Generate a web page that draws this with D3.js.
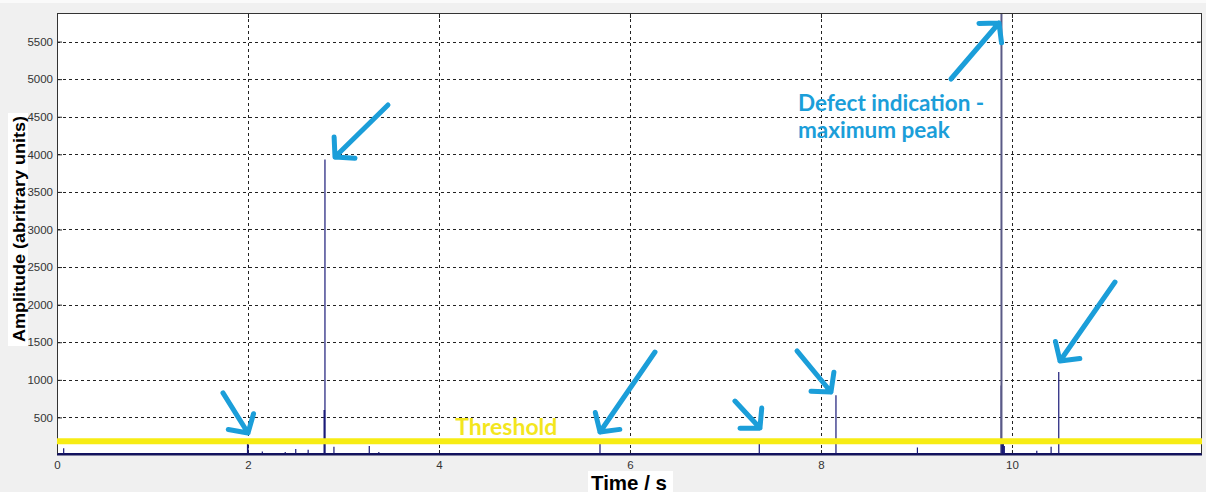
<!DOCTYPE html>
<html>
<head>
<meta charset="utf-8">
<script src="https://cdn.jsdelivr.net/npm/d3@7"></script>
<style>
  html, body { margin: 0; padding: 0; background: #f0f0f0; }
  svg { display: block; }
</style>
</head>
<body>
<svg id="chart" width="1206" height="492"></svg>
<script>
// ---- data ----
const xTicks = [0, 2, 4, 6, 8, 10];
const yTicks = [500, 1000, 1500, 2000, 2500, 3000, 3500, 4000, 4500, 5000, 5500];
const xDomain = [0, 11.99];
const yDomain = [0, 5880];

// spikes of the signal (time in s, amplitude in arbitrary units)
const spikeTime = [0.07, 1.995, 2.0, 2.15, 2.39, 2.50, 2.63, 2.797, 2.803, 2.806, 2.90, 3.27, 3.37,
                   5.686, 6.44, 7.354, 8.157, 8.90, 9.01, 9.887, 9.890, 9.895, 9.90, 9.91, 9.92,
                   10.26, 10.41, 10.49];
const spikeAmp  = [90, 190, 200, 45, 40, 80, 70, 600, 600, 3930, 110, 120, 40,
                   190, 20, 190, 795, 20, 100, 925, 6200, 150, 150, 150, 120,
                   55, 110, 1105];

const thresholdValue = 182;
const thresholdLabel = "Threshold";

// annotation arrows (tail -> head), in data units
const arrowFromT = [3.466, 1.738, 6.262, 7.099, 7.749, 9.361, 11.079];
const arrowFromA = [4656, 827, 1370, 718, 1384, 5002, 2301];
const arrowToT   = [2.911, 2.0, 5.686, 7.361, 8.105, 9.864, 10.503];
const arrowToA   = [3964, 293, 306, 359, 838, 5747, 1251];

const defectLabel = ["Defect indication -", "maximum peak"];
const xLabel = "Time / s";
const yLabel = "Amplitude (abritrary units)";

// ---- layout ----
const svg = d3.select("#chart");
const L = 57, R = 1202, T = 13, B = 455;
const x = d3.scaleLinear().domain(xDomain).range([L, R]);
const y = d3.scaleLinear().domain(yDomain).range([B, T]);

// light strip at the very top
svg.append("rect").attr("x", 0).attr("y", 0).attr("width", 1206).attr("height", 3).attr("fill", "#fafafa");

// white box behind the y label (under the tick labels)
svg.append("rect").attr("x", 8).attr("y", 113).attr("width", 20).attr("height", 233).attr("fill", "#fff");

// plot background
svg.append("rect").attr("x", L).attr("y", T).attr("width", R - L).attr("height", B - T).attr("fill", "#fff");

svg.append("defs").append("clipPath").attr("id", "clip")
  .append("rect").attr("x", L).attr("y", T).attr("width", R - L).attr("height", B - T);

// grid
const grid = svg.append("g");
grid.selectAll("line.gy").data(yTicks).join("line")
  .attr("x1", L).attr("x2", R).attr("y1", d => Math.round(y(d)) + 0.5).attr("y2", d => Math.round(y(d)) + 0.5)
  .attr("stroke", "#222").attr("stroke-width", 1).attr("stroke-dasharray", "3,3");
grid.selectAll("line.gx").data(xTicks.filter(d => d > 0)).join("line")
  .attr("y1", T).attr("y2", B).attr("x1", d => Math.round(x(d)) + 0.5).attr("x2", d => Math.round(x(d)) + 0.5)
  .attr("stroke", "#222").attr("stroke-width", 1).attr("stroke-dasharray", "3,3");

// axes with inner ticks (MATLAB style)
const tickStyle = g => {
  g.select(".domain").remove();
  g.selectAll(".tick line").attr("stroke", "#222");
  g.selectAll(".tick text").attr("fill", "#333").attr("font-family", "Liberation Sans, Arial, sans-serif").attr("font-size", "11.5px");
};
svg.append("g").attr("transform", `translate(0,${B})`)
  .call(d3.axisBottom(x).tickValues(xTicks).tickFormat(d3.format("d")).tickSizeInner(-5).tickPadding(5.5))
  .call(tickStyle);
svg.append("g").attr("transform", `translate(0,${T})`)
  .call(d3.axisTop(x).tickValues(xTicks).tickFormat("").tickSizeInner(-5))
  .call(tickStyle);
svg.append("g").attr("transform", `translate(${L},0)`)
  .call(d3.axisLeft(y).tickValues(yTicks).tickFormat(d3.format("d")).tickSizeInner(-5).tickPadding(4))
  .call(tickStyle);
svg.append("g").attr("transform", `translate(${R},0)`)
  .call(d3.axisRight(y).tickValues(yTicks).tickFormat("").tickSizeInner(-5))
  .call(tickStyle);

// signal
const sig = svg.append("g").attr("clip-path", "url(#clip)");
sig.append("line").attr("x1", x(xDomain[0])).attr("x2", x(xDomain[1]))
  .attr("y1", y(0) - 1).attr("y2", y(0) - 1).attr("stroke", "#10106a").attr("stroke-width", 2);
sig.selectAll("line.spike").data(spikeTime).join("line")
  .attr("class", "spike")
  .attr("x1", d => x(d)).attr("x2", d => x(d))
  .attr("y1", y(0)).attr("y2", (d, i) => y(spikeAmp[i]))
  .attr("stroke", (d, i) => spikeAmp[i] > yDomain[1] ? "#5a5a86" : "#1a1a78")
  .attr("stroke-width", (d, i) => spikeAmp[i] > yDomain[1] ? 2 : 1.2);

// axes box
svg.append("rect").attr("x", L + 0.5).attr("y", T + 0.5).attr("width", R - L - 1).attr("height", B - T - 1)
  .attr("fill", "none").attr("stroke", "#333").attr("stroke-width", 1);
svg.append("line").attr("x1", L).attr("x2", R).attr("y1", B - 0.5).attr("y2", B - 0.5)
  .attr("stroke", "#14145a").attr("stroke-width", 2);

// threshold
svg.append("line").attr("x1", L).attr("x2", R)
  .attr("y1", y(thresholdValue)).attr("y2", y(thresholdValue))
  .attr("stroke", "#f7ec14").attr("stroke-width", 6);
svg.append("text").attr("x", x(4.17)).attr("y", y(thresholdValue) - 6)
  .attr("font-family", "Lato, sans-serif").attr("font-weight", 700).attr("font-size", "23px")
  .attr("fill", "#f3e61e").text(thresholdLabel);

// arrows
const blue = "#1b9ed9";
const arrows = svg.append("g").attr("stroke", blue).attr("stroke-width", 5)
  .attr("stroke-linecap", "round").attr("stroke-linejoin", "round").attr("fill", "none");
arrowFromT.forEach((t, i) => {
  const x0 = x(t), y0 = y(arrowFromA[i]), x1 = x(arrowToT[i]), y1 = y(arrowToA[i]);
  const ang = Math.atan2(y0 - y1, x0 - x1);
  const len = 20, spread = 48 * Math.PI / 180;
  const a1 = [x1 + len * Math.cos(ang + spread), y1 + len * Math.sin(ang + spread)];
  const a2 = [x1 + len * Math.cos(ang - spread), y1 + len * Math.sin(ang - spread)];
  arrows.append("path").attr("d", `M${x0},${y0}L${x1},${y1}M${a1[0]},${a1[1]}L${x1},${y1}L${a2[0]},${a2[1]}`);
});

// defect label
svg.append("text").attr("x", 798).attr("y", 111)
  .attr("font-family", "Lato, sans-serif").attr("font-weight", 700).attr("font-size", "22.5px")
  .attr("fill", blue)
  .selectAll("tspan").data(defectLabel).join("tspan")
  .attr("x", 798).attr("dy", (d, i) => i === 0 ? 0 : 27).text(d => d);

// x label with white background
svg.append("rect").attr("x", 588).attr("y", 471).attr("width", 85).attr("height", 21).attr("fill", "#fff");
svg.append("text").attr("x", 629).attr("y", 489.5).attr("text-anchor", "middle")
  .attr("font-family", "Liberation Sans, Arial, sans-serif").attr("font-weight", 700).attr("font-size", "20.5px")
  .attr("fill", "#000").text(xLabel);

svg.append("text").attr("transform", "translate(25,229) rotate(-90)").attr("text-anchor", "middle")
  .attr("font-family", "Liberation Sans, Arial, sans-serif").attr("font-weight", 700).attr("font-size", "16.5px")
  .attr("textLength", 226).attr("lengthAdjust", "spacingAndGlyphs")
  .attr("fill", "#000").text(yLabel);
</script>
</body>
</html>
